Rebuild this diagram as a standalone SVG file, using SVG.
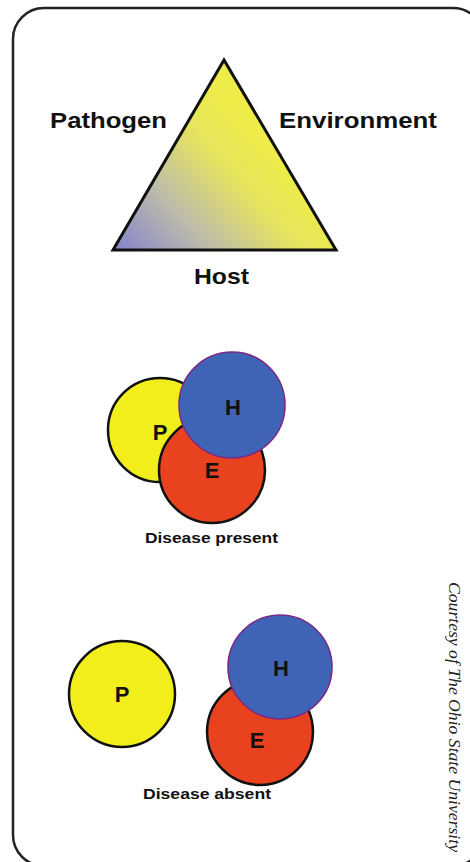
<svg xmlns="http://www.w3.org/2000/svg" width="470" height="862" viewBox="0 0 470 862">
<defs>
<linearGradient id="tri" gradientUnits="userSpaceOnUse" x1="112" y1="250" x2="250" y2="125">
<stop offset="0" stop-color="#8382cc"/>
<stop offset="0.4" stop-color="#bdbcaa"/>
<stop offset="0.75" stop-color="#e6e45e"/>
<stop offset="1" stop-color="#eeec48"/>
</linearGradient>
</defs>
<style>
.lbl{font-family:"Liberation Sans",Arial,sans-serif;font-weight:bold;fill:#111;}
.big{font-size:22.5px;}
.let{font-size:22px;text-anchor:middle;}
.cap{font-size:15px;}
.p{fill:#f2ee1c;stroke:#111;stroke-width:2.5;}
.e{fill:#e8421f;stroke:#111;stroke-width:2.5;}
.h{fill:#3f64b5;stroke:#7a2a86;stroke-width:1.6;}
</style>
<rect x="13" y="8" width="471" height="858" rx="31" ry="31" fill="#fff" stroke="#222" stroke-width="2.5"/>
<g id="triangle">
<polygon points="224,60 113,250 336,250" fill="url(#tri)" stroke="#111" stroke-width="3" stroke-linejoin="miter"/>
<text class="lbl big" x="50" y="128" textLength="117" lengthAdjust="spacingAndGlyphs">Pathogen</text>
<text class="lbl big" x="279" y="128" textLength="158" lengthAdjust="spacingAndGlyphs">Environment</text>
<text class="lbl big" x="194" y="284" textLength="55" lengthAdjust="spacingAndGlyphs">Host</text>
</g>
<g id="present">
<circle class="p" cx="160" cy="430" r="52"/>
<circle class="e" cx="212" cy="470" r="53"/>
<circle class="h" cx="232" cy="405" r="53"/>
<text class="lbl let" x="160" y="440">P</text>
<text class="lbl let" x="233" y="415">H</text>
<text class="lbl let" x="212" y="478">E</text>
<text class="lbl cap" x="145" y="543" textLength="133" lengthAdjust="spacingAndGlyphs">Disease present</text>
</g>
<g id="absent">
<circle class="p" cx="122" cy="694" r="53"/>
<circle class="e" cx="260" cy="732" r="53"/>
<circle class="h" cx="280" cy="667" r="52"/>
<text class="lbl let" x="122" y="702">P</text>
<text class="lbl let" x="281" y="676">H</text>
<text class="lbl let" x="257" y="748">E</text>
<text class="lbl cap" x="143" y="799" textLength="128" lengthAdjust="spacingAndGlyphs">Disease absent</text>
</g>
<text transform="translate(449,582) rotate(90)" font-family="Liberation Serif, serif" font-style="italic" font-size="16" fill="#222" textLength="270" lengthAdjust="spacingAndGlyphs">Courtesy of The Ohio State University</text>
</svg>
